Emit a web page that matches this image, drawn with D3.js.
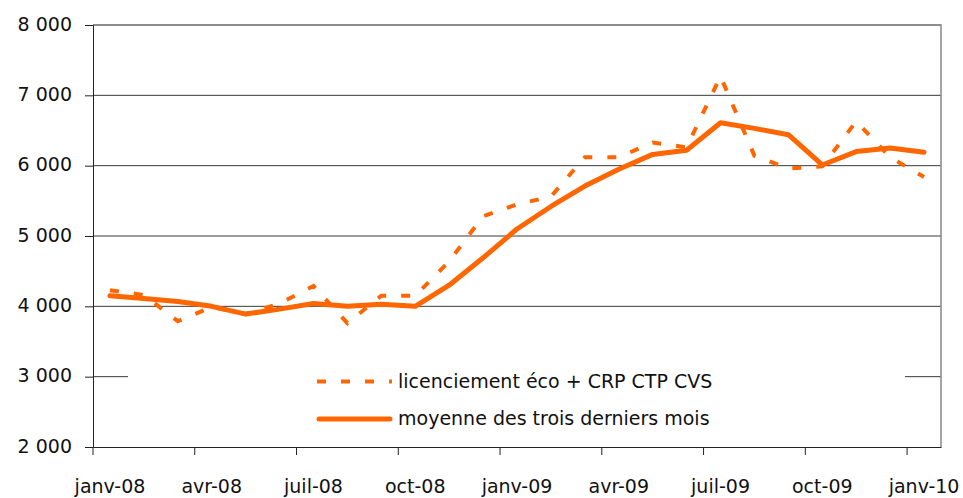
<!DOCTYPE html>
<html>
<head>
<meta charset="utf-8">
<script src="https://cdn.jsdelivr.net/npm/d3@7"></script>
<style>
  body { margin: 0; background: #fff; }
  #chart text { font-family: "DejaVu Sans", Verdana, sans-serif; fill: #111; }
</style>
</head>
<body>
<div id="chart"></div>
<script>
// Monthly categories (only every third one is labelled)
const months = [
    "janv-08", "févr-08", "mars-08", "avr-08", "mai-08", "juin-08",
    "juil-08", "août-08", "sept-08", "oct-08", "nov-08", "déc-08",
    "janv-09", "févr-09", "mars-09", "avr-09", "mai-09", "juin-09",
    "juil-09", "août-09", "sept-09", "oct-09", "nov-09", "déc-09",
    "janv-10"
];

// licenciement éco + CRP CTP CVS (dashed)
const licenciements = [
    4230, 4160, 3790, 3990, 3890, 4040, 4290, 3760, 4150, 4150,
    4640, 5280, 5450, 5560, 6120, 6120, 6330, 6260, 7270, 6140,
    5960, 5990, 6630, 6120, 5840
];

// moyenne des trois derniers mois (solid)
const moyenne = [
    4150, 4110, 4070, 4000, 3890, 3960, 4040, 4000, 4030, 4000,
    4300, 4690, 5100, 5420, 5710, 5950, 6160, 6220, 6610, 6530,
    6440, 6010, 6200, 6250, 6190
];

const yTicks = [2000, 3000, 4000, 5000, 6000, 7000, 8000];
const seriesNames = ["licenciement éco + CRP CTP CVS", "moyenne des trois derniers mois"];

(function() {
    // 1. Setup dimensions
    const W = 963, H = 498;
    const margin = {top: 25, right: 22, bottom: 51, left: 93};
    const width = W - margin.left - margin.right;
    const height = H - margin.top - margin.bottom;
    const orange = "#FF6600";

    const svg = d3.select("#chart")
        .append("svg")
        .attr("width", W)
        .attr("height", H)
        .append("g")
        .attr("transform", `translate(${margin.left},${margin.top})`);

    // 2. Scales
    const x = d3.scaleBand()
        .domain(months)
        .range([0, width])
        .padding(0);

    const y = d3.scaleLinear()
        .domain([2000, 8000])
        .range([height, 0]);

    const fmt = v => d3.format(",")(v).replace(",", " ");

    // 3. Gridlines
    svg.append("g")
        .selectAll("line")
        .data(yTicks.slice(1))
        .join("line")
        .attr("x1", 0)
        .attr("x2", width)
        .attr("y1", d => y(d))
        .attr("y2", d => y(d))
        .attr("stroke", "#3a3a3a")
        .attr("stroke-width", 1);

    // plot border (top / right)
    svg.append("path")
        .attr("d", `M0,0H${width}V${height}`)
        .attr("fill", "none")
        .attr("stroke", "#888")
        .attr("stroke-width", 1.5);

    // 4. Axes
    const yAxis = svg.append("g")
        .call(d3.axisLeft(y).tickValues(yTicks).tickSize(8).tickPadding(13).tickFormat(fmt));
    yAxis.select(".domain").attr("stroke", "#222");
    yAxis.selectAll(".tick line").attr("stroke", "#222");
    yAxis.selectAll("text")
        .attr("dy", "0.28em")
        .style("font-size", "19px");

    const labelled = months.filter((m, i) => i % 3 === 0);

    const xAxis = svg.append("g")
        .attr("transform", `translate(0,${height})`)
        .call(d3.axisBottom(x).tickValues(labelled).tickSize(0).tickPadding(33).tickSizeOuter(0));
    xAxis.select(".domain").attr("stroke", "#222");
    xAxis.selectAll("text")
        .style("font-size", "19px");

    // tick marks sit on category boundaries
    xAxis.selectAll(".bound")
        .data(labelled)
        .join("line")
        .attr("class", "bound")
        .attr("x1", d => x(d))
        .attr("x2", d => x(d))
        .attr("y1", 0)
        .attr("y2", 8)
        .attr("stroke", "#222");

    // 5. Lines
    const line = d3.line()
        .x((d, i) => x(months[i]) + x.bandwidth() / 2)
        .y(d => y(d));

    svg.append("path")
        .datum(licenciements)
        .attr("fill", "none")
        .attr("stroke", orange)
        .attr("stroke-width", 4)
        .attr("stroke-dasharray", "9,15")
        .attr("d", line);

    svg.append("path")
        .datum(moyenne)
        .attr("fill", "none")
        .attr("stroke", orange)
        .attr("stroke-width", 5)
        .attr("stroke-linejoin", "round")
        .attr("stroke-linecap", "round")
        .attr("d", line);

    // 6. Legend (white box over the 3 000 gridline)
    const legend = svg.append("g")
        .attr("transform", `translate(${128 - margin.left}, ${362 - margin.top})`);

    legend.append("rect")
        .attr("width", 777)
        .attr("height", 76)
        .attr("fill", "#fff");

    seriesNames.forEach((name, i) => {
        const row = legend.append("g")
            .attr("transform", `translate(189, ${19.5 + i * 37.5})`);

        row.append("line")
            .attr("x1", i === 0 ? 0 : 2)
            .attr("x2", i === 0 ? 75 : 73)
            .attr("stroke", orange)
            .attr("stroke-width", i === 0 ? 4 : 5)
            .attr("stroke-linecap", i === 0 ? "butt" : "round")
            .attr("stroke-dasharray", i === 0 ? "9,15" : null);

        row.append("text")
            .attr("x", 81)
            .attr("y", 6)
            .style("font-size", "19px")
            .text(name);
    });
})();
</script>
</body>
</html>
